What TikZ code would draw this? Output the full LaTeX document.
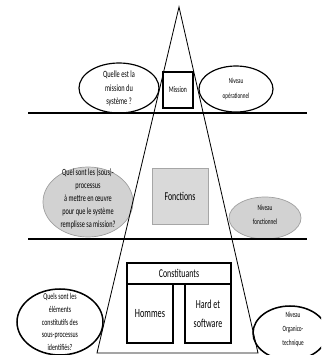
\documentclass[tikz,border=0pt]{standalone}
\usepackage{fontspec}
\setmainfont{Carlito}[FakeStretch=0.66]
\begin{document}
\begin{tikzpicture}[
    bulle/.style={line width=1pt},
    bullegrise/.style={fill=gray!35, draw=gray!75, line width=0.6pt},
    texte/.style={align=center, inner sep=0pt},
    boite/.style={draw, inner sep=0pt, align=center}]
    \clip (0,0) rectangle (9.63,-10.65);

    %bulles de gauche et de droite
    \draw[bulle] (3.57,-2.64) circle[x radius=1.2, y radius=0.75];
    \draw[bulle] (7.08,-2.67) circle[x radius=1.11, y radius=0.69];
    \draw[bullegrise] (2.64,-6.06) circle[x radius=1.35, y radius=1.05];
    \draw[bullegrise] (7.95,-6.54) circle[x radius=1.08, y radius=0.63];
    \draw[bulle, line width=1.3pt] (1.8,-9.66) circle[x radius=1.29, y radius=0.99];
    \draw[bulle, line width=1.3pt] (8.7,-9.99) circle[x radius=1.11, y radius=0.81];

    \node[texte, font=\fontsize{8.2}{11.3}\selectfont] (question1) at (3.57,-2.66) {Quelle est la\\mission du\\système ?};
    \node[texte, font=\fontsize{6.6}{12.5}\selectfont] (niveau1) at (7.08,-2.67) {Niveau\\opérationnel};
    \node[texte, font=\fontsize{8.1}{11}\selectfont] (question2) at (2.64,-5.97) {Quel sont les (sous)-\\processus\\à mettre en œuvre\\pour que le système\\remplisse sa mission?};
    \node[texte, font=\fontsize{6.8}{12}\selectfont] (niveau2) at (7.95,-6.45) {Niveau\\fonctionnel};
    \node[texte, font=\fontsize{7.6}{10.8}\selectfont] (question3) at (1.8,-9.66) {Quels sont les\\éléments\\constitutifs des\\sous-processus\\identifiés?};
    \node[texte, font=\fontsize{6.8}{12}\selectfont] (niveau3) at (8.79,-9.87) {Niveau\\Organico-\\technique};

    %pyramide
    \draw[line width=0.7pt] (5.37,-0.21) -- (2.91,-10.59) -- (7.74,-10.59) -- cycle;

    %niveaux
    \draw[line width=2pt] (0.84,-3.39) -- (9.21,-3.39);
    \draw[line width=2pt] (0.84,-7.17) -- (9.21,-7.17);

    \node[boite, line width=1.2pt, minimum width=0.9cm, minimum height=1.08cm, font=\fontsize{7.4}{8}\selectfont] (mission) at (5.34,-2.7) {Mission};
    \node[boite, fill=gray!30, draw=gray!70, line width=0.6pt, minimum width=1.68cm, minimum height=1.68cm, font=\fontsize{10.2}{11}\selectfont] (fonctions) at (5.4,-5.88) {Fonctions};

    %constituants
    \node[boite, line width=0.9pt, minimum width=3.12cm, minimum height=0.63cm, font=\fontsize{10.2}{11}\selectfont] (constituants) at (5.37,-8.205) {Constituants};
    \node[boite, line width=0.9pt, minimum width=1.38cm, minimum height=1.77cm, font=\fontsize{10.7}{11}\selectfont] (hommes) at (4.5,-9.405) {Hommes};
    \node[boite, line width=0.9pt, minimum width=1.38cm, minimum height=1.77cm, font=\fontsize{10.4}{16}\selectfont] (hard) at (6.24,-9.405) {Hard et\\software};
\end{tikzpicture}
\end{document}
